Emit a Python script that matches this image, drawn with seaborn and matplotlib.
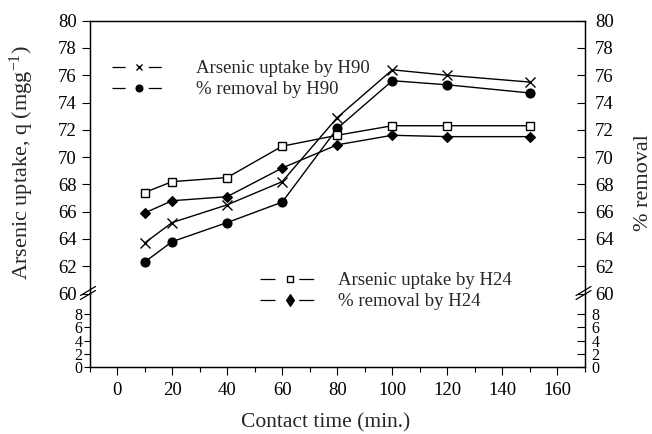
import numpy as np
import pandas as pd
import matplotlib
matplotlib.use("Agg")
import matplotlib.pyplot as plt
from matplotlib.lines import Line2D
import seaborn as sns

# ---------------- data ----------------
time_min = [10, 20, 40, 60, 80, 100, 120, 150]
uptake_h90 = [63.7, 65.2, 66.5, 68.2, 72.9, 76.4, 76.0, 75.5]
removal_h90 = [62.3, 63.8, 65.2, 66.7, 72.1, 75.6, 75.3, 74.7]
uptake_h24 = [67.4, 68.2, 68.5, 70.8, 71.6, 72.3, 72.3, 72.3]
removal_h24 = [65.9, 66.8, 67.1, 69.2, 70.9, 71.6, 71.5, 71.5]
series_labels = ["Arsenic uptake by H90", "% removal by H90",
                 "Arsenic uptake by H24", "% removal by H24"]
upper_ticks = [60, 62, 64, 66, 68, 70, 72, 74, 76, 78, 80]
lower_ticks = [0, 2, 4, 6, 8]
x_major = [0, 20, 40, 60, 80, 100, 120, 140, 160]
x_minor = [-10, 10, 30, 50, 70, 90, 110, 130, 150, 170]
x_label = "Contact time (min.)"
y_label_left = "Arsenic uptake, q (mgg$^{-1}$)"
y_label_right = "% removal"

# ---------------- style ----------------
sns.set_theme(style="white")
plt.rcParams['font.family'] = ['Liberation Serif', 'DejaVu Serif']
plt.rcParams['mathtext.default'] = 'regular'
plt.rcParams['axes.edgecolor'] = 'black'
plt.rcParams['axes.linewidth'] = 0.9
plt.rcParams['xtick.color'] = 'black'
plt.rcParams['ytick.color'] = 'black'

W, H = 652, 434
fig = plt.figure(figsize=(W / 100, H / 100), dpi=100)


def frac(x0, y0, x1, y1):
    return [x0 / W, 1 - y1 / H, (x1 - x0) / W, (y1 - y0) / H]


X0, X1 = 89.5, 585.0
Y_TOP, Y_BRK, Y_BOT = 20.7, 293.5, 366.7
ax_up = fig.add_axes(frac(X0, Y_TOP, X1, Y_BRK))
ax_lo = fig.add_axes(frac(X0, Y_BRK, X1, Y_BOT))

FS = 13.5
FS_LO = 11.5
for ax in (ax_up, ax_lo):
    ax.set_xlim(-10, 170)
    ax.set_facecolor('white')
ax_up.set_ylim(60, 80)
ax_lo.set_ylim(0, 11.2)

# ---------------- data lines ----------------
styles = [
    dict(marker='x', markersize=7.5, markeredgewidth=1.0, markerfacecolor='black', markeredgecolor='black'),
    dict(marker='o', markersize=6.5, markeredgewidth=0.8, markerfacecolor='black', markeredgecolor='black'),
    dict(marker='s', markersize=5.5, markeredgewidth=1.0, markerfacecolor='white', markeredgecolor='black'),
    dict(marker='D', markersize=5.5, markeredgewidth=0.8, markerfacecolor='black', markeredgecolor='black'),
]
for vals, st in zip([uptake_h90, removal_h90, uptake_h24, removal_h24], styles):
    sns.lineplot(x=time_min, y=vals, ax=ax_up, color='black', linewidth=1.0,
                 legend=False, **st)

# ---------------- axes styling ----------------
ax_up.spines['bottom'].set_visible(False)
ax_lo.spines['top'].set_visible(False)
ax_up.set_xticks([])
ax_up.tick_params(axis='x', bottom=False, labelbottom=False)
ax_up.set_yticks(upper_ticks)
ax_up.tick_params(axis='y', direction='out', length=5.8, width=0.8, pad=3.4, labelsize=FS, left=True)

ax_lo.set_xticks(x_major)
ax_lo.set_xticks(x_minor, minor=True)
ax_lo.tick_params(axis='x', which='major', direction='out', length=5.8, width=0.8, pad=5.5, labelsize=FS, bottom=True)
ax_lo.tick_params(axis='x', which='minor', direction='out', length=3.6, width=0.8, bottom=True)
ax_lo.set_yticks(lower_ticks)
ax_lo.tick_params(axis='y', direction='out', length=4.0, width=0.8, pad=1.2, labelsize=FS_LO, left=True)

for ax, ticks, lim, pad, fs in ((ax_up, upper_ticks, (60, 80), 7.2, FS),
                                (ax_lo, lower_ticks, (0, 11.2), 4.8, FS_LO)):
    axr = ax.twinx()
    axr.set_ylim(*lim)
    axr.set_yticks(ticks)
    axr.tick_params(axis='y', direction='in', length=5.5, width=0.8, pad=pad, labelsize=fs, right=True)
    axr.grid(False)
    if ax is ax_up:
        axr.spines['bottom'].set_visible(False)
    else:
        axr.spines['top'].set_visible(False)

for ax in (ax_up, ax_lo):
    ax.grid(False)

# ---------------- break marks ----------------
for xs in (X0, X1):
    for dy in (0, -4):
        fig.add_artist(Line2D([(xs - 9) / W, (xs + 6) / W],
                              [1 - (Y_BRK + 6 + dy) / H, 1 - (Y_BRK - 3 + dy) / H],
                              color='black', lw=0.9))

# ---------------- labels ----------------
fig.text(22 / W, 1 - 163 / H, y_label_left, rotation=90, ha='center', va='center', fontsize=16)
fig.text(643 / W, 1 - 183 / H, y_label_right, rotation=90, ha='center', va='center', fontsize=16)
fig.text(326 / W, 1 - 423 / H, x_label, ha='center', va='center', fontsize=15.5)

# ---------------- legends ----------------
def handle(st, size, seg, gap):
    h = Line2D([], [], color='black', linewidth=0.9, **st)
    h.set_markersize(size)
    h.set_dashes((seg, gap, seg, 200))
    return h

h1 = [handle(styles[0], 5, 10.5, 18.5), handle(styles[1], 5, 10.5, 18.5)]
leg1 = fig.legend(h1, series_labels[:2], loc='upper left',
                  bbox_to_anchor=(112 / W, 1 - 60 / H), frameon=False,
                  fontsize=FS, handlelength=39.5 / FS, handletextpad=21 / FS,
                  labelspacing=0.22, borderpad=0, borderaxespad=0)
h2 = [handle(styles[2], 5, 12, 19), handle(dict(styles[3], marker='d'), 6, 12, 19)]
leg2 = fig.legend(h2, series_labels[2:], loc='upper left',
                  bbox_to_anchor=(260 / W, 1 - 272 / H), frameon=False,
                  fontsize=FS, handlelength=43 / FS, handletextpad=13 / FS,
                  labelspacing=0.22, borderpad=0, borderaxespad=0)

fig.savefig("out.png", dpi=100, facecolor='white')
